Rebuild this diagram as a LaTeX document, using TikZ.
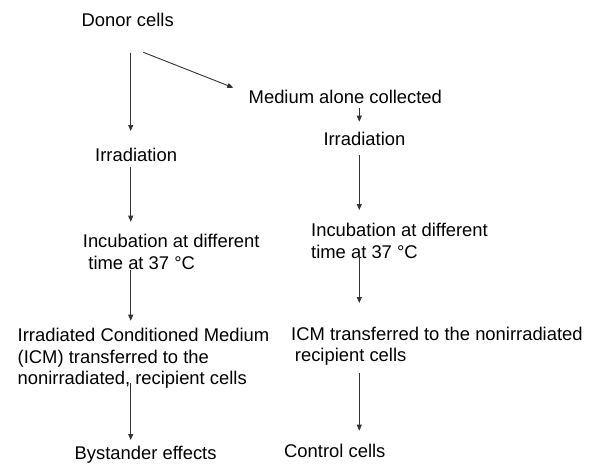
\documentclass[tikz,border=0pt]{standalone}
\usepackage{fontspec}
\setmainfont{Liberation Sans}
\usetikzlibrary{arrows.meta,calc}
\newcommand{\twoline}[2]{\begin{tabular}[t]{@{}l@{}}#1\\#2\end{tabular}}
\tikzset{
  lbl/.style={anchor=base west, inner sep=0pt, text=black, font=\fontsize{18.4}{21.5}\selectfont},
  arr/.style={-{Triangle[width=5pt,length=6pt]}, line width=0.9pt, draw=black!80}
}
\begin{document}
\begin{tikzpicture}[x=1pt,y=-1pt]
\fill[white,use as bounding box] (0,0) rectangle (600,471);
% left column
\node[lbl] (donor) at (81.5,27) {Donor cells};
\node[lbl] (irrL) at (95,161) {Irradiation};
\node[lbl] (incL) at (82.7,247.5) {\twoline{Incubation at different}{\hspace*{5.5pt}time at 37 °C}};
\node[lbl] (icmL) at (17.5,341.7) {\begin{tabular}[t]{@{}l@{}}Irradiated Conditioned Medium\\(ICM) transferred to the\\nonirradiated, recipient cells\end{tabular}};
\node[lbl] (bysL) at (74.5,459) {Bystander effects};
% right column
\node[lbl] (med) at (248.5,103.3) {Medium alone collected};
\node[lbl] (irrR) at (323.3,145) {Irradiation};
\node[lbl] (incR) at (311,236.7) {\twoline{Incubation at different}{time at 37 °C}};
\node[lbl] (icmR) at (291,340) {\twoline{ICM transferred to the nonirradiated}{\hspace*{3.7pt}recipient cells}};
\node[lbl] (ctrl) at (284,457) {Control cells};
% arrow axes
\coordinate (L) at (130.7,0);
\coordinate (R) at (359.3,0);
% connectors
\draw[arr] ($(donor.base -| L)+(0,25.7)$) -- ($(irrL.base -| L)+(0,-30)$);
\draw[arr] ($(donor.base west)+(61.8,25.3)$) -- ($(med.base west)+(-15.2,-15.6)$);
\draw[arr] ($(irrL.base -| L)+(0,5.7)$) -- ($(incL.base -| L)+(0,-25.8)$);
\draw[arr] ($(incL.base -| L)+(0,22.5)$) -- ($(icmL.base -| L)+(0,-21)$);
\draw[arr] ($(icmL.base -| L)+(0,41.3)$) -- ($(bysL.base -| L)+(0,-19)$);
\draw[arr] ($(med.base -| R)+(0,4.7)$) -- ($(irrR.base -| R)+(0,-23.3)$);
\draw[arr] ($(irrR.base -| R)+(0,10)$) -- ($(incR.base -| R)+(0,-26.7)$);
\draw[arr] ($(incR.base -| R)+(0,19.3)$) -- ($(icmR.base -| R)+(0,-37)$);
\draw[arr] ($(icmR.base -| R)+(0,33.3)$) -- ($(ctrl.base -| R)+(0,-26.3)$);
\end{tikzpicture}
\end{document}
